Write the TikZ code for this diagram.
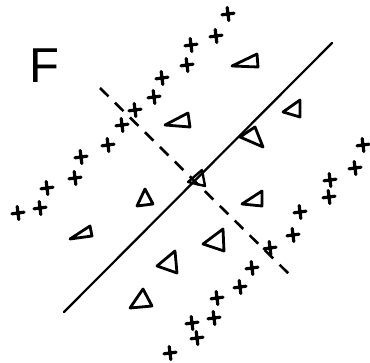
\documentclass[tikz,border=0pt]{standalone}
\usepackage{fontspec}
\setmainfont{Liberation Sans}
\begin{document}
\begin{tikzpicture}[x=1pt,y=-1pt,
  plusmark/.pic={\draw[line width=3.2pt,line cap=round] (-6,0.8)--(6,-0.8) (-0.8,-6.5)--(0.8,6.5);},
  tri/.style={line width=2.8pt,line join=round},
  sep/.style={line width=2.2pt,line cap=round},
  dsep/.style={line width=2.6pt,dash pattern=on 12pt off 9pt}]
\useasboundingbox (0,0) rectangle (370,362);
\node[font=\fontsize{49}{49}\selectfont,inner sep=0pt,anchor=base west] (F) at (29,82) {F};
% separating line
\coordinate (s1) at (64,312);
\coordinate (s2) at (332,43);
\draw[sep] (s1) -- (s2);
% dashed perpendicular
\coordinate (d1) at (100,88);
\coordinate (d2) at (290,275);
\draw[dsep] (d1) -- (d2);
% center mark
\draw[tri,line width=2.4pt] (188,182) -- (202,170) -- (205,186) -- cycle;
% triangles
\draw[tri] (232,66) -- (257,54) -- (258,67) -- cycle;
\draw[tri] (283,112) -- (300,100) -- (300,117) -- cycle;
\draw[tri] (240,137) -- (255,127) -- (263,147) -- cycle;
\draw[tri] (165,125) -- (188,113) -- (190,127) -- cycle;
\draw[tri] (137,206) -- (145,189) -- (153,204) -- cycle;
\draw[tri] (70,239) -- (90,226) -- (92,236) -- cycle;
\draw[tri] (157,266) -- (175,251) -- (177,273) -- cycle;
\draw[tri] (130,308) -- (143,289) -- (152,306) -- cycle;
\draw[tri] (242,204) -- (262,191) -- (262,206) -- cycle;
\draw[tri] (203,244) -- (223,229) -- (224,251) -- cycle;
% upper-left plus line
\foreach \p in {(228,14),(216,36),(191,45),(187,65),(162,78),(154,97),(135,110),
  (122,125),(108,145),(81,157),(75,178),(47,188),(40,208),(18,213)}
  \pic at \p {plusmark};
% lower-right plus line
\foreach \p in {(363,145),(355,168),(330,180),(329,197),(300,212),(293,235),(270,248),
  (252,268),(240,287),(217,298),(214,318),(192,323),(197,338),(170,353)}
  \pic at \p {plusmark};
\end{tikzpicture}
\end{document}
